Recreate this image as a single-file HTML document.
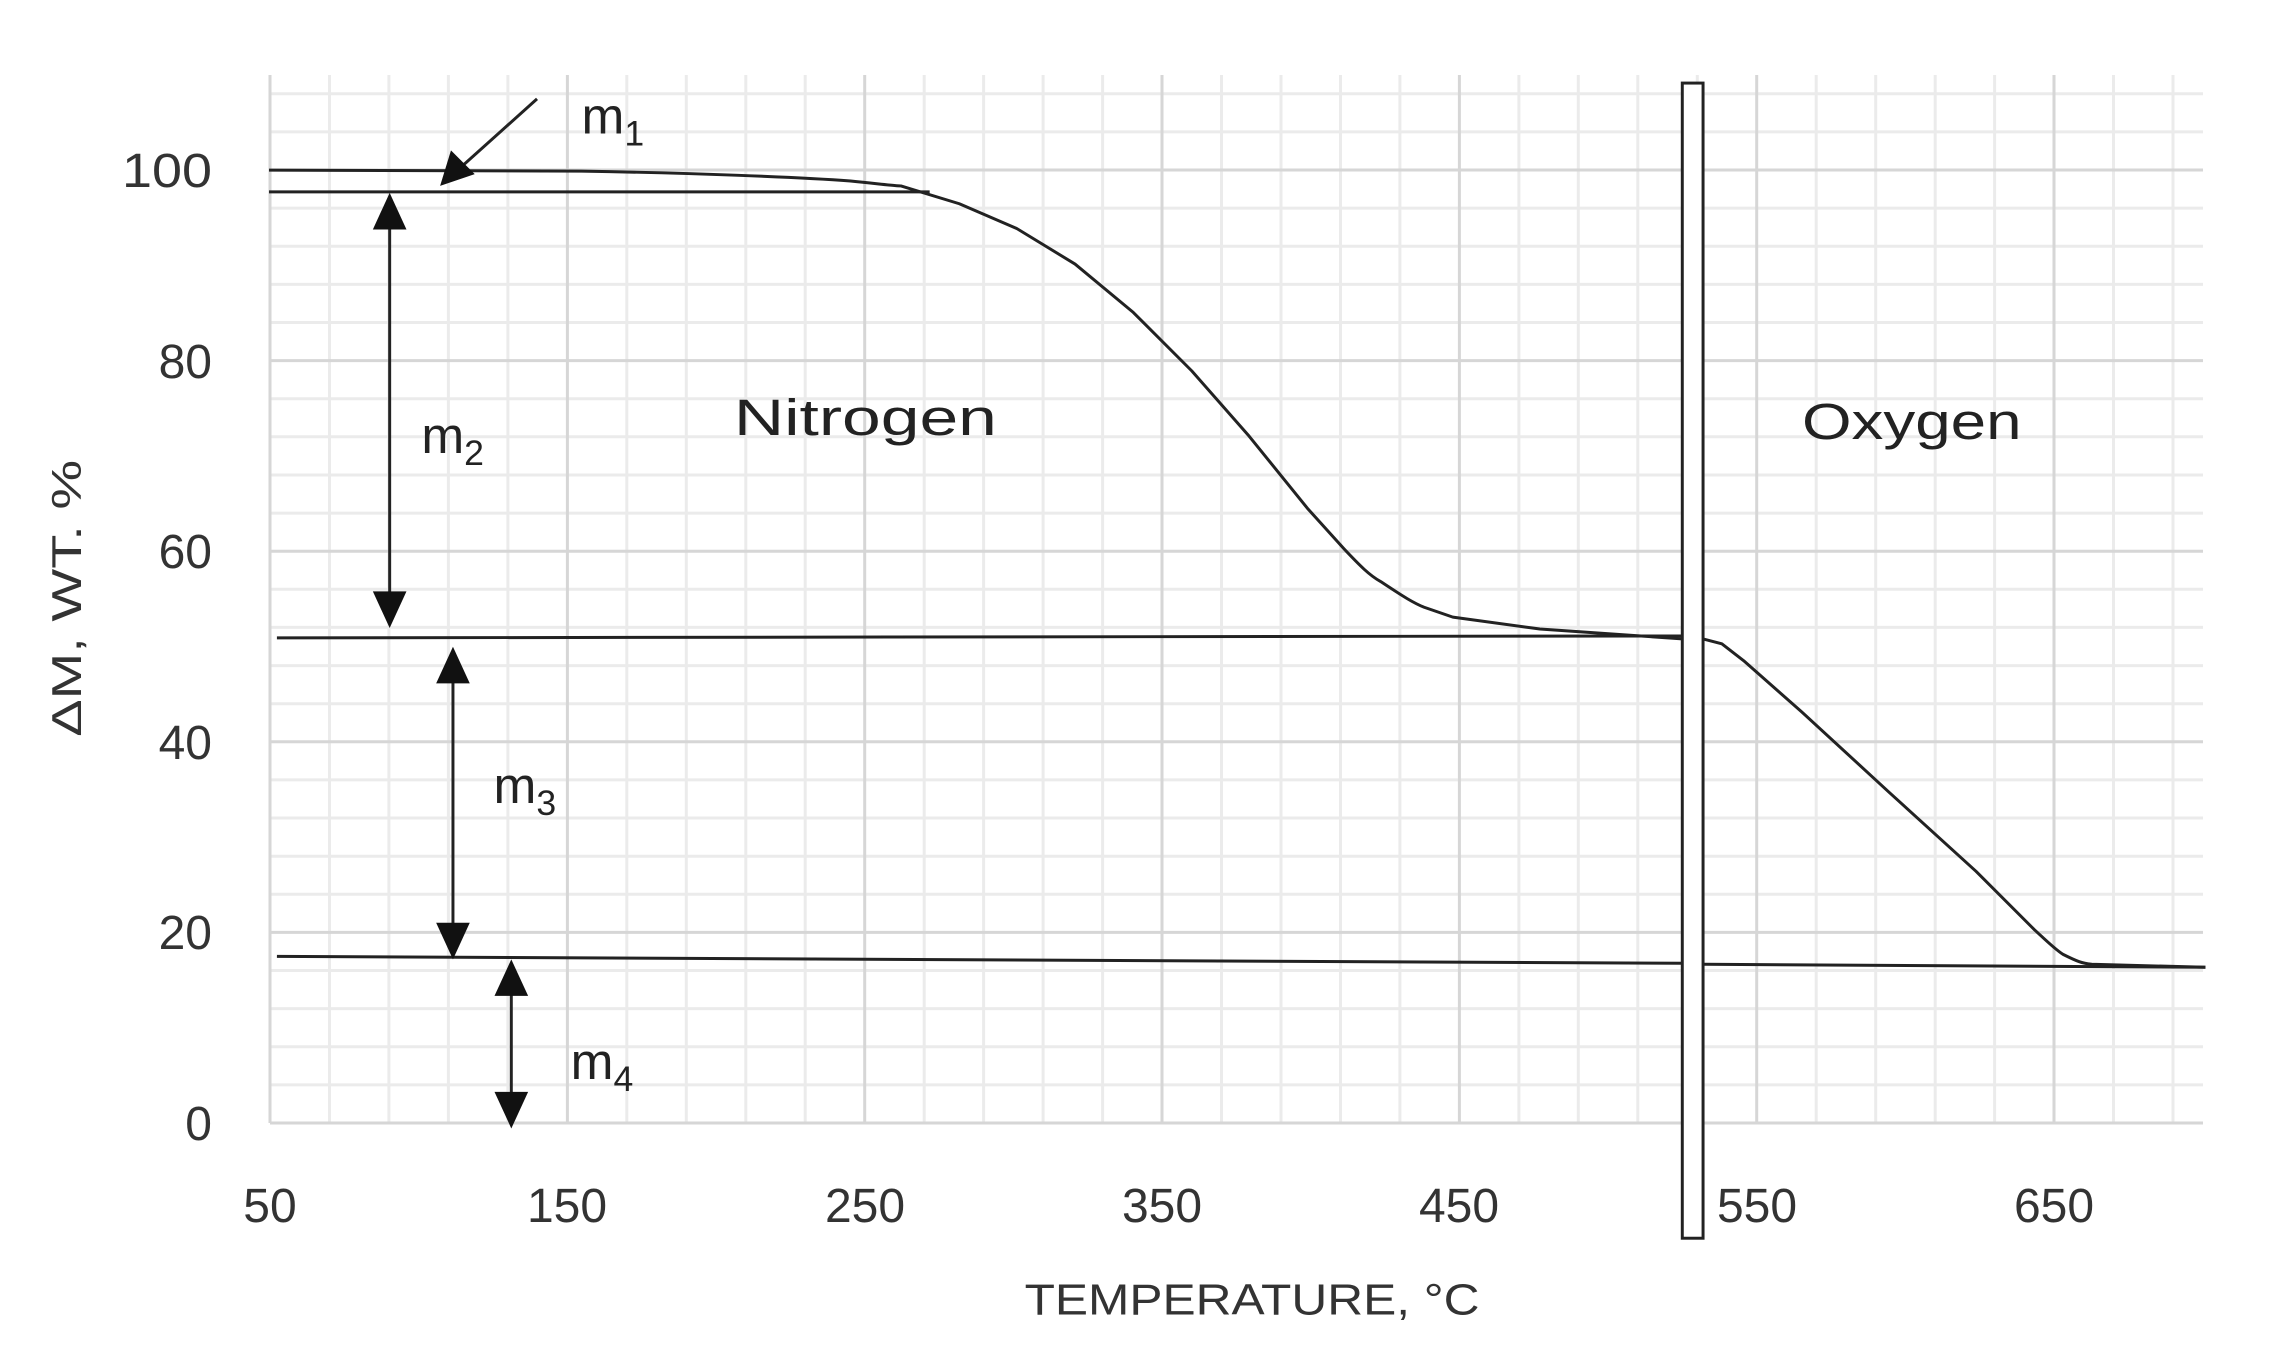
<!DOCTYPE html>
<html><head><meta charset="utf-8"><style>html,body{margin:0;padding:0;background:#fff}svg{display:block}</style></head>
<body>
<svg width="2277" height="1364" viewBox="0 0 2277 1364" xmlns="http://www.w3.org/2000/svg" font-family="Liberation Sans, sans-serif">
<g stroke="#ebebeb" stroke-width="3">
<line x1="329.5" y1="75" x2="329.5" y2="1123"/><line x1="388.9" y1="75" x2="388.9" y2="1123"/><line x1="448.4" y1="75" x2="448.4" y2="1123"/><line x1="507.9" y1="75" x2="507.9" y2="1123"/>
<line x1="626.8" y1="75" x2="626.8" y2="1123"/><line x1="686.3" y1="75" x2="686.3" y2="1123"/><line x1="745.8" y1="75" x2="745.8" y2="1123"/><line x1="805.2" y1="75" x2="805.2" y2="1123"/>
<line x1="924.2" y1="75" x2="924.2" y2="1123"/><line x1="983.6" y1="75" x2="983.6" y2="1123"/><line x1="1043.1" y1="75" x2="1043.1" y2="1123"/><line x1="1102.6" y1="75" x2="1102.6" y2="1123"/>
<line x1="1221.5" y1="75" x2="1221.5" y2="1123"/><line x1="1281" y1="75" x2="1281" y2="1123"/><line x1="1340.5" y1="75" x2="1340.5" y2="1123"/><line x1="1399.9" y1="75" x2="1399.9" y2="1123"/>
<line x1="1518.9" y1="75" x2="1518.9" y2="1123"/><line x1="1578.3" y1="75" x2="1578.3" y2="1123"/><line x1="1637.8" y1="75" x2="1637.8" y2="1123"/><line x1="1697.3" y1="75" x2="1697.3" y2="1123"/>
<line x1="1816.2" y1="75" x2="1816.2" y2="1123"/><line x1="1875.7" y1="75" x2="1875.7" y2="1123"/><line x1="1935.2" y1="75" x2="1935.2" y2="1123"/><line x1="1994.6" y1="75" x2="1994.6" y2="1123"/>
<line x1="2113.5" y1="75" x2="2113.5" y2="1123"/><line x1="2173" y1="75" x2="2173" y2="1123"/>
<line x1="270" y1="1084.9" x2="2203" y2="1084.9"/><line x1="270" y1="1046.8" x2="2203" y2="1046.8"/><line x1="270" y1="1008.6" x2="2203" y2="1008.6"/><line x1="270" y1="970.5" x2="2203" y2="970.5"/>
<line x1="270" y1="894.3" x2="2203" y2="894.3"/><line x1="270" y1="856.2" x2="2203" y2="856.2"/><line x1="270" y1="818" x2="2203" y2="818"/><line x1="270" y1="779.9" x2="2203" y2="779.9"/>
<line x1="270" y1="703.7" x2="2203" y2="703.7"/><line x1="270" y1="665.6" x2="2203" y2="665.6"/><line x1="270" y1="627.4" x2="2203" y2="627.4"/><line x1="270" y1="589.3" x2="2203" y2="589.3"/>
<line x1="270" y1="513.1" x2="2203" y2="513.1"/><line x1="270" y1="475" x2="2203" y2="475"/><line x1="270" y1="436.8" x2="2203" y2="436.8"/><line x1="270" y1="398.7" x2="2203" y2="398.7"/>
<line x1="270" y1="322.5" x2="2203" y2="322.5"/><line x1="270" y1="284.4" x2="2203" y2="284.4"/><line x1="270" y1="246.2" x2="2203" y2="246.2"/><line x1="270" y1="208.1" x2="2203" y2="208.1"/>
<line x1="270" y1="131.9" x2="2203" y2="131.9"/><line x1="270" y1="93.8" x2="2203" y2="93.8"/>
</g>
<g stroke="#d6d6d6" stroke-width="3">
<line x1="270" y1="75" x2="270" y2="1123"/><line x1="567.4" y1="75" x2="567.4" y2="1123"/><line x1="864.7" y1="75" x2="864.7" y2="1123"/><line x1="1162" y1="75" x2="1162" y2="1123"/><line x1="1459.4" y1="75" x2="1459.4" y2="1123"/><line x1="1756.7" y1="75" x2="1756.7" y2="1123"/><line x1="2054" y1="75" x2="2054" y2="1123"/>
<line x1="270" y1="1123" x2="2203" y2="1123"/><line x1="270" y1="932.4" x2="2203" y2="932.4"/><line x1="270" y1="741.8" x2="2203" y2="741.8"/><line x1="270" y1="551.2" x2="2203" y2="551.2"/><line x1="270" y1="360.6" x2="2203" y2="360.6"/><line x1="270" y1="170" x2="2203" y2="170"/>
</g>
<g transform="scale(0.989)">
<g stroke="#222" stroke-width="3" fill="none" stroke-linejoin="round">
<path d="M272,172 L588,173 C700,175 808,179 860,183 C890,186 905,188 911,188 L970,206 L1028,231 L1087,267 L1146,316 L1205,375 L1263,441 L1322,514 L1359,555 C1375,572 1385,582 1396,588 C1420,604 1430,610 1440,614 L1469,624 L1557,636 L1701,646"/>
<path d="M1722,646 L1741,651 L1763,668 L1822,720 L1910,801 L1998,881 L2057,940 C2070,952 2078,960 2086,965 C2100,972 2105,974 2115,975 L2230,978"/>
<line x1="272" y1="194" x2="940" y2="194"/>
<line x1="280" y1="645" x2="1701" y2="643"/>
<line x1="280" y1="967" x2="1701" y2="974"/>
<line x1="1722" y1="975" x2="2230" y2="978"/>
<line x1="394" y1="225" x2="394" y2="605"/>
<line x1="458" y1="684" x2="458" y2="940"/>
<line x1="517" y1="1000" x2="517" y2="1111"/>
<line x1="543" y1="100" x2="465" y2="170"/>
</g>
<g fill="#111">
<polygon points="394,195 377,232 411,232"/>
<polygon points="394,635 377,598 411,598"/>
<polygon points="458,654 441,691 475,691"/>
<polygon points="458,970 441,933 475,933"/>
<polygon points="517,970 500,1007 534,1007"/>
<polygon points="517,1141 500,1104 534,1104"/>
<polygon points="445,188 456,152 480,176"/>
</g>
<rect x="1701" y="84" width="21" height="1168" fill="#fff" stroke="#222" stroke-width="3"/>
<g fill="#222" font-size="52">
<text x="588" y="135">m<tspan font-size="36" dy="12">1</tspan></text>
<text x="426" y="458">m<tspan font-size="36" dy="12">2</tspan></text>
<text x="499" y="812">m<tspan font-size="36" dy="12">3</tspan></text>
<text x="577" y="1091">m<tspan font-size="36" dy="12">4</tspan></text>
<text x="742" y="440" textLength="266" lengthAdjust="spacingAndGlyphs">Nitrogen</text>
<text x="1822" y="444" textLength="222" lengthAdjust="spacingAndGlyphs">Oxygen</text>
</g>
<g fill="#333" text-anchor="middle">
<text x="1266" y="1329" font-size="44" textLength="460" lengthAdjust="spacingAndGlyphs">TEMPERATURE, °C</text>
<text transform="translate(82,605) rotate(-90)" font-size="42" textLength="280" lengthAdjust="spacingAndGlyphs">ΔM, WT. %</text>
</g>
</g>
<g fill="#333" font-size="48" text-anchor="end">
<text x="212" y="187" textLength="90" lengthAdjust="spacingAndGlyphs">100</text>
<text x="212" y="378">80</text>
<text x="212" y="568">60</text>
<text x="212" y="759">40</text>
<text x="212" y="949">20</text>
<text x="212" y="1140">0</text>
</g>
<g fill="#333" font-size="48" text-anchor="middle">
<text x="270" y="1222">50</text>
<text x="567" y="1222">150</text>
<text x="865" y="1222">250</text>
<text x="1162" y="1222">350</text>
<text x="1459" y="1222">450</text>
<text x="1757" y="1222">550</text>
<text x="2054" y="1222">650</text>
</g>
</svg>
</body></html>
